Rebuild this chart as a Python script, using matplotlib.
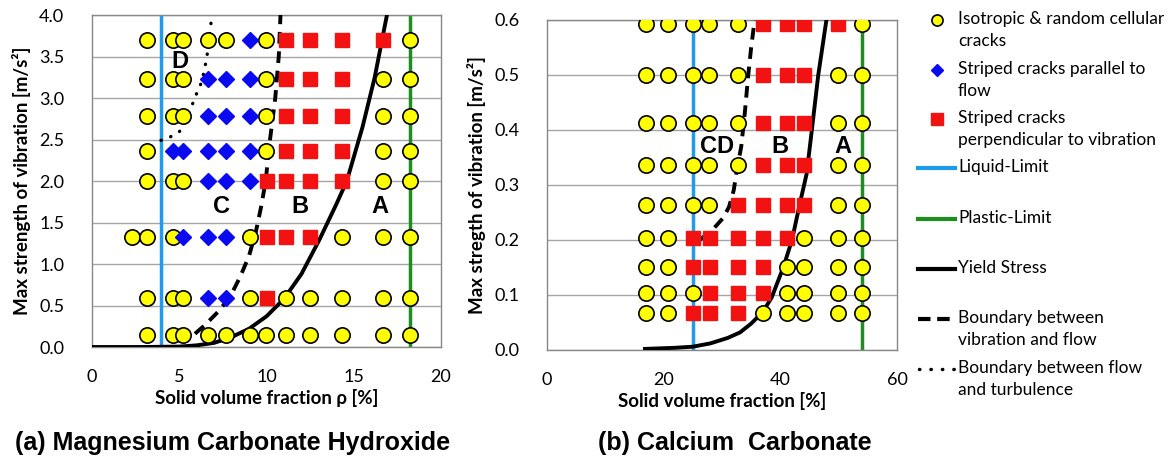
import numpy as np
import matplotlib.pyplot as plt

plt.rcParams['font.family'] = ['Lato', 'DejaVu Sans']

# ---- (a) Magnesium Carbonate Hydroxide ----
mg_rows = [3.70, 3.23, 2.78, 2.36, 2.00, 1.33, 0.59, 0.14]
mg_iso = [[3.13, 4.66, 5.2, 6.67, 7.68, 9.95, 18.2],
          [3.13, 4.66, 5.2, 9.95, 16.7, 18.2],
          [3.13, 4.66, 5.2, 9.95, 16.7, 18.2],
          [3.13, 9.95, 16.7, 18.2],
          [3.13, 4.66, 5.2, 16.7, 18.2],
          [2.27, 3.13, 4.66, 9.05, 14.3, 16.7, 18.2],
          [3.13, 4.66, 5.2, 9.05, 11.1, 12.5, 14.3, 16.7, 18.2],
          [3.13, 4.66, 5.2, 6.67, 7.68, 9.05, 9.95, 11.1, 12.5, 14.3, 16.7, 18.2]]
mg_par = [[9.05],
          [6.67, 7.68, 9.05],
          [6.67, 7.68, 9.05],
          [4.66, 5.2, 6.67, 7.68, 9.05],
          [6.67, 7.68, 9.05],
          [5.2, 6.67, 7.68],
          [6.67, 7.68],
          []]
mg_perp = [[11.1, 12.5, 14.3, 16.7],
           [11.1, 12.5, 14.3],
           [11.1, 12.5, 14.3],
           [11.1, 12.5, 14.3],
           [10.0, 11.1, 12.5, 14.3],
           [10.0, 11.1, 12.5],
           [10.0],
           []]
mg_liquid = 3.95
mg_plastic = 18.2
mg_yield_x = [0, 3, 5, 6, 7, 8, 9, 10, 11, 12, 13, 14, 14.6, 15.5, 16.2, 16.9]
mg_yield_y = [0, 0.0, 0.005, 0.02, 0.05, 0.12, 0.22, 0.37, 0.58, 0.88, 1.28, 1.72, 2.0, 2.65, 3.25, 4.0]
mg_dash_x = [5.9, 6.5, 7.2, 7.9, 8.5, 9.0, 9.4, 9.7, 9.95, 10.2, 10.5, 10.7, 10.8]
mg_dash_y = [0.16, 0.27, 0.42, 0.6, 0.85, 1.1, 1.4, 1.7, 2.0, 2.5, 3.0, 3.5, 4.0]
mg_dot_x = [3.95, 4.47, 4.99, 5.4, 5.71, 5.94, 6.19, 6.4, 6.57, 6.66, 6.86]
mg_dot_y = [2.49, 2.53, 2.59, 2.72, 2.9, 3.03, 3.14, 3.3, 3.48, 3.62, 3.98]
mg_regions = ['D', 'C', 'B', 'A']
mg_region_x = [5.05, 7.43, 11.9, 16.5]
mg_region_y = [3.44, 1.69, 1.69, 1.69]

# ---- (b) Calcium Carbonate ----
ca_rows = [0.593, 0.5, 0.413, 0.336, 0.264, 0.203, 0.15, 0.104, 0.068]
ca_iso = [[17.0, 20.8, 25.0, 27.7, 32.8, 54.0],
          [17.0, 20.8, 25.0, 27.7, 32.8, 49.9, 54.0],
          [17.0, 20.8, 25.0, 27.7, 32.8, 49.9, 54.0],
          [17.0, 20.8, 25.0, 27.7, 32.8, 49.9, 54.0],
          [17.0, 20.8, 25.0, 27.7, 49.9, 54.0],
          [17.0, 20.8, 44.0, 49.9, 54.0],
          [17.0, 20.8, 41.1, 44.0, 49.9, 54.0],
          [17.0, 20.8, 25.0, 41.1, 44.0, 49.9, 54.0],
          [17.0, 20.8, 37.1, 41.1, 44.0, 49.9, 54.0]]
ca_perp = [[37.1, 41.1, 44.0, 49.9],
           [37.1, 41.1, 44.0],
           [37.1, 41.1, 44.0],
           [37.1, 41.1, 44.0],
           [32.8, 37.1, 41.1, 44.0],
           [25.0, 27.9, 32.8, 37.1, 41.1],
           [25.0, 27.9, 32.8, 37.1],
           [27.9, 32.8, 37.1],
           [25.0, 27.9, 32.8]]
ca_liquid = 25.0
ca_plastic = 54.0
ca_yield_x = [16.8, 22, 25, 28, 31, 33.1, 35, 36.9, 38.5, 40.5, 42, 43.3, 44.5, 45.4, 46.5, 47.9]
ca_yield_y = [0.002, 0.004, 0.006, 0.012, 0.022, 0.032, 0.048, 0.068, 0.095, 0.15, 0.2, 0.264, 0.32, 0.4, 0.5, 0.6]
ca_dash_x = [26.2, 28.5, 30.2, 31.2, 32.0, 32.6, 33.3, 33.9, 34.5, 35.0, 35.6]
ca_dash_y = [0.2, 0.22, 0.24, 0.26, 0.29, 0.33, 0.37, 0.43, 0.5, 0.55, 0.6]
ca_regions = ['CD', 'B', 'A']
ca_region_x = [29.1, 40.0, 50.8]
ca_region_y = [0.37, 0.37, 0.37]

legend_labels = ['Isotropic & random cellular\ncracks', 'Striped cracks parallel to\nflow',
                 'Striped cracks\nperpendicular to vibration', 'Liquid-Limit', 'Plastic-Limit',
                 'Yield Stress', 'Boundary between\nvibration and flow',
                 'Boundary between flow\nand turbulence']

BLUE_LINE = '#1E9CEB'
GREEN = '#1E8E1E'
RED = '#F21212'
DBLUE = '#0A0AF0'
YELLOW = '#FFFF00'

iso_kw = dict(marker='o', ms=11, mfc=YELLOW, mec='black', mew=1.2, ls='none', zorder=5)
par_kw = dict(marker='D', ms=8.5, mfc=DBLUE, mec=DBLUE, ls='none', zorder=5)
perp_kw = dict(marker='s', ms=9.5, mfc=RED, mec=RED, ls='none', zorder=5)

fig = plt.figure(figsize=(11.68, 4.59), dpi=100)
ax1 = fig.add_axes([0.0788, 0.244, 0.2988, 0.7233])
ax2 = fig.add_axes([0.4683, 0.2375, 0.2997, 0.719])


def rows_xy(rows, cols):
    xs, ys = [], []
    for y, row in zip(rows, cols):
        xs += row
        ys += [y] * len(row)
    return xs, ys


def style(ax, xmax, ymax, ystep, yfmt, xticks):
    ax.set_xlim(0, xmax)
    ax.set_ylim(0, ymax)
    ax.set_yticks(np.arange(0, ymax + ystep / 2, ystep))
    ax.set_yticklabels([yfmt % v for v in np.arange(0, ymax + ystep / 2, ystep)])
    ax.set_xticks(xticks)
    ax.grid(axis='y', color='#a6a6a6', lw=1)
    ax.set_axisbelow(True)
    ax.tick_params(length=0, labelsize=13)
    ax.tick_params(axis='x', pad=16)
    ax.tick_params(axis='y', pad=20)
    for s in ax.spines.values():
        s.set_color('#888888')
        s.set_linewidth(1)


# panel (a)
ax1.axvline(mg_liquid, color=BLUE_LINE, lw=2.5, zorder=2)
ax1.axvline(mg_plastic, color=GREEN, lw=2.5, zorder=2)
ax1.plot(mg_yield_x, mg_yield_y, color='black', lw=2.8, zorder=3)
ax1.plot(mg_dash_x, mg_dash_y, color='black', lw=2.8, ls=(0, (3, 2)), zorder=3)
ax1.plot(mg_dot_x, mg_dot_y, color='black', lw=2.4, ls=(0, (0.1, 3.0)),
         dash_capstyle='round', zorder=3)
ax1.plot(*rows_xy(mg_rows, mg_iso), **iso_kw)
ax1.plot(*rows_xy(mg_rows, mg_par), **par_kw)
ax1.plot(*rows_xy(mg_rows, mg_perp), **perp_kw)
for t, x, y in zip(mg_regions, mg_region_x, mg_region_y):
    ax1.text(x, y, t, fontsize=17, fontweight='bold', family=['Liberation Sans', 'DejaVu Sans'],
             ha='center', va='center', zorder=6)
style(ax1, 20, 4.0, 0.5, '%.1f', [0, 5, 10, 15, 20])
ax1.set_ylabel('Max strength of vibration [m/s\u00b2]', fontsize=13.5, fontweight='bold', labelpad=6)
ax1.set_xlabel('Solid volume fraction \u03c1 [%]', fontsize=13.5, fontweight='bold', labelpad=3)

# panel (b)
ax2.axvline(ca_liquid, color=BLUE_LINE, lw=2.5, zorder=2)
ax2.axvline(ca_plastic, color=GREEN, lw=2.5, zorder=2)
ax2.plot(ca_yield_x, ca_yield_y, color='black', lw=2.8, zorder=3)
ax2.plot(ca_dash_x, ca_dash_y, color='black', lw=2.8, ls=(0, (3, 2)), zorder=3)
ax2.plot(*rows_xy(ca_rows, ca_iso), **iso_kw)
ax2.plot(*rows_xy(ca_rows, ca_perp), **perp_kw)
for t, x, y in zip(ca_regions, ca_region_x, ca_region_y):
    ax2.text(x, y, t, fontsize=17, fontweight='bold', family=['Liberation Sans', 'DejaVu Sans'],
             ha='center', va='center', zorder=6)
style(ax2, 60, 0.6, 0.1, '%.1f', [0, 20, 40, 60])
ax2.set_ylabel('Max stregth of vibration [m/s\u00b2]', fontsize=13.5, fontweight='bold', labelpad=6)
ax2.set_xlabel('Solid volume fraction [%]', fontsize=13.5, fontweight='bold', labelpad=3)

# captions
cap_font = ['Liberation Sans', 'DejaVu Sans']
fig.text(15 / 1168, 0.035, '(a) Magnesium Carbonate Hydroxide', fontsize=18, fontweight='bold',
         family=cap_font, ha='left', va='center')
fig.text(598 / 1168, 0.035, '(b) Calcium  Carbonate', fontsize=18, fontweight='bold',
         family=cap_font, ha='left', va='center')

# legend drawn in pixel coordinates
lg = fig.add_axes([900 / 1168, 0, 268 / 1168, 1])
lg.set_xlim(900, 1168)
lg.set_ylim(459, 0)
lg.axis('off')
label_y = [20, 70, 119, 168, 219, 269, 319, 369]
lg.plot([937], [label_y[0]], marker='o', ms=8, mfc=YELLOW, mec='black', mew=1.2, ls='none')
lg.plot([937], [label_y[1]], marker='D', ms=6.5, mfc=DBLUE, mec=DBLUE, ls='none')
lg.plot([937], [label_y[2]], marker='s', ms=8, mfc=RED, mec=RED, ls='none')
lg.plot([918, 955], [label_y[3]] * 2, color=BLUE_LINE, lw=3)
lg.plot([918, 955], [label_y[4]] * 2, color=GREEN, lw=3)
lg.plot([918, 955], [label_y[5]] * 2, color='black', lw=3)
lg.plot([918, 955], [label_y[6]] * 2, color='black', lw=3, ls=(0, (3, 1.6)))
lg.plot([919, 955], [label_y[7]] * 2, color='black', lw=2.5, ls=(0, (0.1, 3.2)),
        dash_capstyle='round')
for y, t in zip(label_y, legend_labels):
    lg.text(958, y - 9, t, fontsize=12.5, va='top', ha='left', linespacing=1.45)

fig.savefig('out.png', dpi=100)
